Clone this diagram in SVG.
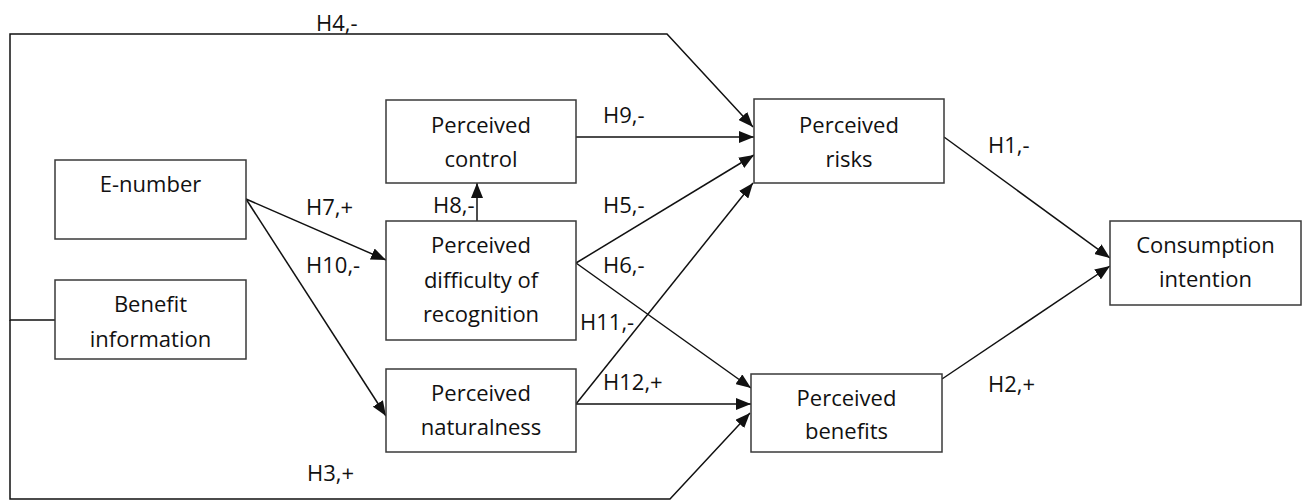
<svg xmlns="http://www.w3.org/2000/svg" width="1306" height="501" viewBox="0 0 1306 501">
<style>
.box{fill:#fff;stroke:#3a3a3a;stroke-width:1.5}
.t{font-family:"Open Sans","Liberation Sans",sans-serif;font-size:22px;fill:#111;text-anchor:middle}
.lb{font-family:"Open Sans","Liberation Sans",sans-serif;font-size:22px;fill:#111}
.c{fill:none;stroke:#111;stroke-width:1.5}
.a{marker-end:url(#arr)}
</style>
<defs>
<marker id="arr" markerUnits="userSpaceOnUse" markerWidth="16" markerHeight="12" refX="15" refY="6" orient="auto">
<path d="M0,0 L15,6 L0,12 Z" fill="#111"/>
</marker>
</defs>
<rect width="1306" height="501" fill="#fff"/>
<g id="connectors">
<path class="c a" d="M55,320 H10 V34 H667 L753,127"/>
<path class="c a" d="M10,320 V499 H670 L750,413"/>
<path class="c a" d="M246,199 L386,260"/>
<path class="c a" d="M246,199 L386,416"/>
<path class="c a" d="M477,221 V183"/>
<path class="c a" d="M576,137 H754"/>
<path class="c a" d="M576,263 L754,155"/>
<path class="c a" d="M576,263 L751,388"/>
<path class="c a" d="M576,404 L753,183"/>
<path class="c a" d="M576,404 H751"/>
<path class="c a" d="M944,137 L1110,258"/>
<path class="c a" d="M942,379 L1110,266"/>
<text class="lb" x="316" y="31">H4,-</text>
<text class="lb" x="307" y="481">H3,+</text>
<text class="lb" x="306" y="215">H7,+</text>
<text class="lb" x="306" y="273">H10,-</text>
<text class="lb" x="433" y="213">H8,-</text>
<text class="lb" x="603" y="123">H9,-</text>
<text class="lb" x="603" y="213">H5,-</text>
<text class="lb" x="603" y="273">H6,-</text>
<text class="lb" x="580" y="330">H11,-</text>
<text class="lb" x="603" y="390">H12,+</text>
<text class="lb" x="988" y="153">H1,-</text>
<text class="lb" x="988" y="392">H2,+</text>
</g>
<g id="e-number">
<rect class="box" x="55" y="160" width="191" height="79"/>
<text class="t" x="150.5" y="192">E-number</text>
</g>
<g id="benefit-information">
<rect class="box" x="55" y="280" width="191" height="79"/>
<text class="t" x="150.5" y="312">Benefit</text>
<text class="t" x="150.5" y="347">information</text>
</g>
<g id="perceived-control">
<rect class="box" x="386" y="100" width="190" height="83"/>
<text class="t" x="481" y="133">Perceived</text>
<text class="t" x="481" y="167">control</text>
</g>
<g id="perceived-difficulty">
<rect class="box" x="386" y="221" width="190" height="119"/>
<text class="t" x="481" y="253">Perceived</text>
<text class="t" x="481" y="288">difficulty of</text>
<text class="t" x="481" y="322">recognition</text>
</g>
<g id="perceived-naturalness">
<rect class="box" x="386" y="369" width="190" height="83"/>
<text class="t" x="481" y="401">Perceived</text>
<text class="t" x="481" y="435">naturalness</text>
</g>
<g id="perceived-risks">
<rect class="box" x="754" y="99" width="190" height="84"/>
<text class="t" x="849" y="133">Perceived</text>
<text class="t" x="849" y="167">risks</text>
</g>
<g id="perceived-benefits">
<rect class="box" x="751" y="374" width="191" height="78"/>
<text class="t" x="846.5" y="406">Perceived</text>
<text class="t" x="846.5" y="439">benefits</text>
</g>
<g id="consumption-intention">
<rect class="box" x="1110" y="221" width="191" height="84"/>
<text class="t" x="1205.5" y="253">Consumption</text>
<text class="t" x="1205.5" y="287">intention</text>
</g>
</svg>
